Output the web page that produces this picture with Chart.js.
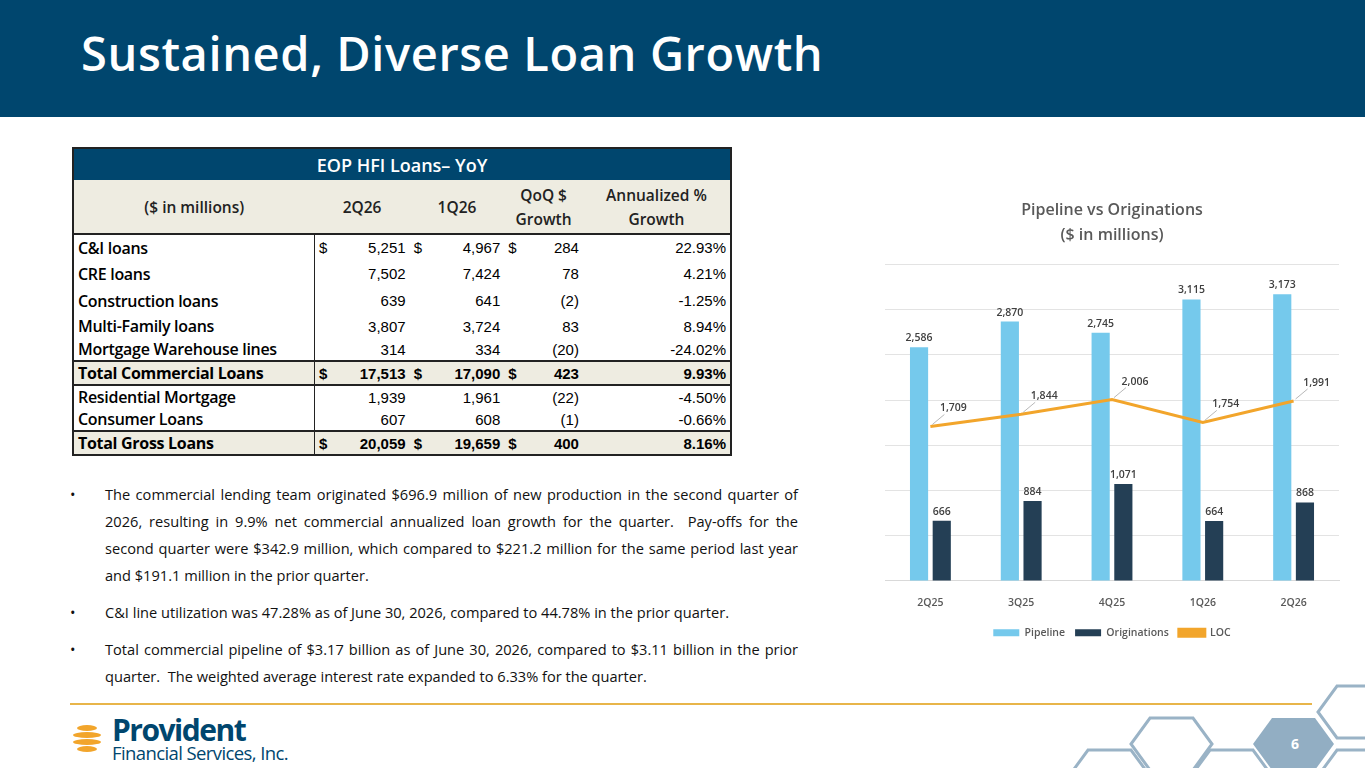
<!DOCTYPE html>
<html>
<head>
<meta charset="utf-8">
<script src="https://cdn.jsdelivr.net/npm/chart.js@4"></script>
<style>
  body { margin:0; width:1365px; height:768px; overflow:hidden; background:#fff; font-family:"Open Sans", sans-serif; position:relative; }
  .band { position:absolute; left:0; top:0; width:1365px; height:117px; background:#00466E; }
  .band h1 { position:absolute; left:81px; top:21px; margin:0; color:#fff; font-size:47px; font-weight:600; letter-spacing:0.6px; }
  table { position:absolute; left:72px; top:147px; width:660px; border-collapse:collapse; font-size:15px; border:2px solid #222; }
  td, th { padding:0 4px; white-space:nowrap; }
  .hd th { background:#00466E; color:#fff; font-size:18px; font-weight:600; height:31px; }
  .sub th { background:#EEECE1; font-weight:600; font-size:15.5px; height:53px; line-height:24px; color:#222; border-bottom:2px solid #222; }
  .lab { font-weight:600; width:232px; border-right:1.5px solid #222; font-size:16px; letter-spacing:-0.3px; }
  .n { font-family:"Liberation Sans", Arial, sans-serif; text-align:right; }
  .d { font-family:"Liberation Sans", Arial, sans-serif; text-align:left; width:14px; }
  .tot td { background:#EEECE1; font-weight:700; border-top:2px solid #222; border-bottom:2px solid #222; }
  ul { position:absolute; left:70px; top:481px; width:693px; margin:0; padding:0 0 0 35px; list-style:none; font-size:14.6px; letter-spacing:0; line-height:27px; color:#111; text-align:justify; }
  ul li { position:relative; margin-bottom:10px; }
  ul li:before { content:"•"; position:absolute; left:-35px; }
  .rule { position:absolute; left:70px; top:703px; width:1242px; height:2px; background:#E8B54A; }
  #wrap { position:absolute; left:870px; top:190px; width:475px; height:458px; }
  .logo1 { position:absolute; left:112px; top:709px; color:#00466E; font-size:30px; font-weight:700; letter-spacing:-1.5px; }
  .logo2 { position:absolute; left:112px; top:740px; color:#00466E; font-size:18.5px; letter-spacing:-0.6px; }
  svg { position:absolute; left:0; top:0; }
</style>
</head>
<body>
<div class="band"><h1>Sustained, Diverse Loan Growth</h1></div>

<table>
  <tr class="hd"><th colspan="9">EOP HFI Loans– YoY</th></tr>
  <tr class="sub"><th>($ in millions)</th><th colspan="2">2Q26</th><th colspan="2">1Q26</th><th colspan="2">QoQ $<br>Growth</th><th>Annualized %<br>Growth</th></tr>
  <tr style="height:26px"><td class="lab">C&amp;I loans</td><td class="d">$</td><td class="n">5,251</td><td class="d">$</td><td class="n">4,967</td><td class="d">$</td><td class="n">284</td><td class="n">22.93%</td></tr>
  <tr style="height:27px"><td class="lab">CRE loans</td><td class="d"></td><td class="n">7,502</td><td class="d"></td><td class="n">7,424</td><td class="d"></td><td class="n">78</td><td class="n">4.21%</td></tr>
  <tr style="height:27px"><td class="lab">Construction loans</td><td class="d"></td><td class="n">639</td><td class="d"></td><td class="n">641</td><td class="d"></td><td class="n">(2)</td><td class="n">-1.25%</td></tr>
  <tr style="height:24px"><td class="lab">Multi-Family loans</td><td class="d"></td><td class="n">3,807</td><td class="d"></td><td class="n">3,724</td><td class="d"></td><td class="n">83</td><td class="n">8.94%</td></tr>
  <tr style="height:23px"><td class="lab">Mortgage Warehouse lines</td><td class="d"></td><td class="n">314</td><td class="d"></td><td class="n">334</td><td class="d"></td><td class="n">(20)</td><td class="n">-24.02%</td></tr>
  <tr class="tot" style="height:23px"><td class="lab">Total Commercial Loans</td><td class="d">$</td><td class="n">17,513</td><td class="d">$</td><td class="n">17,090</td><td class="d">$</td><td class="n">423</td><td class="n">9.93%</td></tr>
  <tr style="height:22px"><td class="lab">Residential Mortgage</td><td class="d"></td><td class="n">1,939</td><td class="d"></td><td class="n">1,961</td><td class="d"></td><td class="n">(22)</td><td class="n">-4.50%</td></tr>
  <tr style="height:22px"><td class="lab">Consumer Loans</td><td class="d"></td><td class="n">607</td><td class="d"></td><td class="n">608</td><td class="d"></td><td class="n">(1)</td><td class="n">-0.66%</td></tr>
  <tr class="tot" style="height:22px"><td class="lab">Total Gross Loans</td><td class="d">$</td><td class="n">20,059</td><td class="d">$</td><td class="n">19,659</td><td class="d">$</td><td class="n">400</td><td class="n">8.16%</td></tr>
</table>

<ul>
  <li>The commercial lending team originated $696.9 million of new production in the second quarter of 2026, resulting in 9.9% net commercial annualized loan growth for the quarter.&nbsp; Pay-offs for the second quarter were $342.9 million, which compared to $221.2 million for the same period last year and $191.1 million in the prior quarter.</li>
  <li>C&amp;I line utilization was 47.28% as of June 30, 2026, compared to 44.78% in the prior quarter.</li>
  <li>Total commercial pipeline of $3.17 billion as of June 30, 2026, compared to $3.11 billion in the prior quarter.&nbsp; The weighted average interest rate expanded to 6.33% for the quarter.</li>
</ul>

<div class="rule"></div>

<svg width="1365" height="768">
  <g fill="none" stroke="#9AB3C6" stroke-width="3">
    <polygon points="1150,718 1193,718 1212,744 1193,770 1150,770 1131,744"/>
    <polygon points="1088,750 1131,750 1150,776 1131,802 1088,802 1069,776"/>
    <polygon points="1210,750 1253,750 1272,776 1253,802 1210,802 1191,776"/>
    <polygon points="1337,686 1380,686 1399,712 1380,738 1337,738 1318,712"/>
    <polygon points="1337,750 1380,750 1399,776 1380,802 1337,802 1318,776"/>
  </g>
  <polygon points="1272,718 1315,718 1334,744 1315,770 1272,770 1253,744" fill="#92AEC3"/>
  <text x="1295" y="749" fill="#fff" font-family="Open Sans" font-weight="700" font-size="14" text-anchor="middle">6</text>
  <g fill="#F2A52B">
    <ellipse cx="87" cy="728" rx="10" ry="3"/>
    <ellipse cx="87" cy="735" rx="14" ry="3"/>
    <ellipse cx="87" cy="742" rx="14" ry="3"/>
    <ellipse cx="87" cy="749" rx="10" ry="3"/>
  </g>
</svg>
<div class="logo1">Provident</div>
<div class="logo2">Financial Services, Inc.</div>

<div id="wrap"><canvas id="c"></canvas></div>

<script>
const quarters = ["2Q25", "3Q25", "4Q25", "1Q26", "2Q26"];
const pipeline = [2586, 2870, 2745, 3115, 3173];
const originations = [666, 884, 1071, 664, 868];
const loc = [1709, 1844, 2006, 1754, 1991];

const fmt = v => v.toLocaleString("en-US");

const labelPlugin = {
  id: "labels",
  afterDatasetsDraw(chart) {
    const ctx = chart.ctx;
    ctx.save();
    ctx.font = "600 10.5px 'Open Sans'";
    ctx.fillStyle = "#404040";
    ctx.textAlign = "center";
    [0, 1].forEach(di => {
      chart.getDatasetMeta(di).data.forEach((el, i) => {
        ctx.fillText(fmt(chart.data.datasets[di].data[i]), el.x, el.y - 9);
      });
    });
    chart.getDatasetMeta(2).data.forEach((el, i) => {
      ctx.strokeStyle = "#999";
      ctx.lineWidth = 0.7;
      ctx.beginPath();
      ctx.moveTo(el.x + 2, el.y - 2);
      ctx.lineTo(el.x + 14, el.y - 12);
      ctx.stroke();
      ctx.fillText(fmt(chart.data.datasets[2].data[i]), el.x + 23, el.y - 18);
    });
    ctx.restore();
  }
};

new Chart(document.getElementById("c"), {
  type: "bar",
  data: {
    labels: quarters,
    datasets: [
      { label: "Pipeline", data: pipeline, backgroundColor: "#75C9EC", order: 2, categoryPercentage: 0.5, barPercentage: 0.8 },
      { label: "Originations", data: originations, backgroundColor: "#243F55", order: 2, categoryPercentage: 0.5, barPercentage: 0.8 },
      { label: "LOC", type: "line", data: loc, borderColor: "#F2A52B", backgroundColor: "#F2A52B", borderWidth: 3, pointRadius: 0, order: 1 }
    ]
  },
  options: {
    responsive: true,
    maintainAspectRatio: false,
    animation: false,
    layout: { padding: { left: 15, right: 6, top: 0, bottom: 0 } },
    plugins: {
      title: { display: true, text: ["Pipeline vs Originations", "($ in millions)"], color: "#595959", font: { family: "Open Sans", size: 16, weight: "600", lineHeight: 1.55 }, padding: { top: 8, bottom: 17 } },
      legend: { position: "bottom", labels: { sort: (a, b) => a.datasetIndex - b.datasetIndex, color: "#595959", font: { family: "Open Sans", size: 10.5, weight: "600" }, boxWidth: 26, boxHeight: 7, padding: 10 } },
      tooltip: { enabled: false }
    },
    scales: {
      x: { grid: { display: false }, border: { color: "#D9D9D9" }, ticks: { color: "#595959", font: { family: "Open Sans", size: 10.5, weight: "600" }, padding: 8 } },
      y: { min: 0, max: 3500, ticks: { stepSize: 500, display: false }, border: { display: false }, grid: { color: "#E3E3E3", drawTicks: false } }
    }
  },
  plugins: [labelPlugin]
});
</script>
</body>
</html>
